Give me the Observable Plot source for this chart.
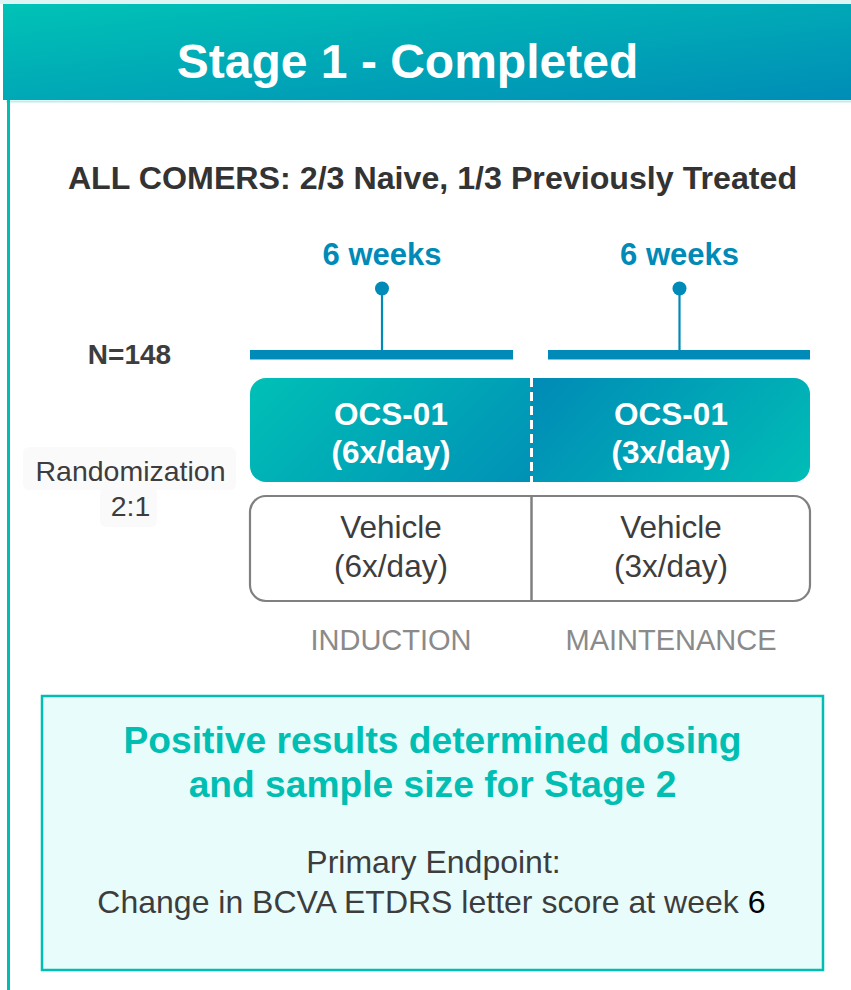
<!DOCTYPE html>
<html>
<head>
<meta charset="utf-8">
<script src="https://cdn.jsdelivr.net/npm/d3@7"></script>
<script src="https://cdn.jsdelivr.net/npm/@observablehq/plot@0.6"></script>
<style>
  html, body { margin: 0; padding: 0; background: #fff; }
  #chart svg { display: block; }
</style>
</head>
<body>
<svg width="0" height="0" style="position:absolute">
  <defs>
    <linearGradient id="hdrGrad" x1="0" y1="0" x2="1" y2="1">
      <stop offset="0" stop-color="#00C3B6"/>
      <stop offset="1" stop-color="#008DB7"/>
    </linearGradient>
    <linearGradient id="ocsLeft" gradientUnits="userSpaceOnUse" x1="300" y1="330" x2="520" y2="550">
      <stop offset="0" stop-color="#00C0B6"/>
      <stop offset="1" stop-color="#008AB6"/>
    </linearGradient>
    <linearGradient id="ocsRight" gradientUnits="userSpaceOnUse" x1="545" y1="360" x2="760" y2="560">
      <stop offset="0" stop-color="#008AB6"/>
      <stop offset="1" stop-color="#00C0B6"/>
    </linearGradient>
  </defs>
</svg>
<div id="chart"></div>
<script>
// ---- content ----
const title = "Stage 1 - Completed";
const population = "ALL COMERS: 2/3 Naive, 1/3 Previously Treated";
const sampleSize = "N=148";
const randomization = ["Randomization", "2:1"];
const phases = ["INDUCTION", "MAINTENANCE"];
const phaseDurations = ["6 weeks", "6 weeks"];
const armNames = ["OCS-01", "Vehicle"];
const doses = ["(6x/day)", "(3x/day)"];
const resultLines = ["Positive results determined dosing", "and sample size for Stage 2"];
const endpointLabel = "Primary Endpoint:";
const endpointText = "Change in BCVA ETDRS letter score at week";
const endpointWeek = "6";

// ---- layout (pixels, y grows downward) ----
const W = 851, H = 990;
const FONT = "'Liberation Sans', Arial, Helvetica, sans-serif";
const TEAL = "#00BFB2", BLUE = "#008AB7", DARK = "#3d3d3d", GRAY = "#8a8a8a";
const bars = [[250, 513], [548, 810]];
const cells = [[250, 531], [531, 810]];
const one = [0];
const k = (v) => () => v;

const phaseData = phases.map((p, i) => ({
  phase: p,
  duration: phaseDurations[i],
  dose: doses[i],
  bx1: bars[i][0], bx2: bars[i][1], bc: (bars[i][0] + bars[i][1]) / 2,
  cx1: cells[i][0], cx2: cells[i][1], cc: (cells[i][0] + cells[i][1]) / 2
}));

const endFs = 32;
const endX = 765;
const sixW = 0.556 * endFs, spW = 0.278 * endFs;

const chart = Plot.plot({
  width: W,
  height: H,
  margin: 0,
  x: {domain: [0, W], range: [0, W], axis: null},
  y: {domain: [0, H], range: [0, H], axis: null},
  style: {background: "#ffffff", fontFamily: FONT},
  marks: [
    // header band
    Plot.rect(one, {x1: k(0), x2: k(W), y1: k(0), y2: k(4), fill: "#dff5f3"}),
    Plot.rect(one, {x1: k(3), x2: k(W), y1: k(4), y2: k(100), fill: "url(#hdrGrad)"}),
    Plot.ruleY(one, {y: k(101), x1: k(6), x2: k(W), stroke: "#bdeeea", strokeWidth: 2}),
    Plot.ruleX(one, {x: k(8), y1: k(100), y2: k(H), stroke: TEAL, strokeWidth: 3}),
    Plot.text([title], {x: k(407), y: k(77), text: d => d, lineAnchor: "bottom",
      fontSize: 48, fontWeight: "bold", fill: "#ffffff"}),

    // population line
    Plot.text([population], {x: k(432), y: k(188), text: d => d, lineAnchor: "bottom",
      fontSize: 32.2, fontWeight: "bold", fill: "#333333"}),

    // timeline: duration labels, lollipops, bars
    Plot.text(phaseData, {x: "bc", y: k(264), text: "duration", lineAnchor: "bottom",
      fontSize: 31, fontWeight: "bold", fill: BLUE}),
    Plot.ruleX(phaseData, {x: "bc", y1: k(288), y2: k(351), stroke: BLUE, strokeWidth: 2.2}),
    Plot.dot(phaseData, {x: "bc", y: k(288), r: 7, fill: BLUE}),
    Plot.rect(phaseData, {x1: "bx1", x2: "bx2", y1: k(350), y2: k(359.5), fill: BLUE}),

    // N and randomization
    Plot.text([sampleSize], {x: k(129), y: k(363), text: d => d, lineAnchor: "bottom",
      fontSize: 28, fontWeight: "bold", fill: DARK}),
    Plot.rect(one, {x1: k(23), x2: k(236), y1: k(447), y2: k(490), fill: "#fafafa", rx: 6}),
    Plot.rect(one, {x1: k(100), x2: k(157), y1: k(488), y2: k(527), fill: "#fafafa", rx: 6}),
    Plot.text(randomization, {x: k(130), y: (d, i) => [480, 515][i], text: d => d, lineAnchor: "bottom",
      fontSize: 28.5, fill: DARK}),

    // OCS-01 arm box (gradient halves) with dashed divider
    Plot.rect(one, {x1: k(cells[0][0]), x2: k(cells[0][1] + 20), y1: k(378), y2: k(482), fill: "url(#ocsLeft)", rx: 16}),
    Plot.rect(one, {x1: k(cells[1][0]), x2: k(cells[1][1]), y1: k(378), y2: k(482), fill: "url(#ocsRight)", rx: 16}),
    Plot.rect(one, {x1: k(cells[1][0]), x2: k(cells[1][0] + 20), y1: k(378), y2: k(482), fill: "url(#ocsRight)"}),
    Plot.ruleX(one, {x: k(531), y1: k(378), y2: k(482), stroke: "#ffffff", strokeWidth: 3, strokeDasharray: "9,5"}),
    Plot.text(phaseData, {x: "cc", y: k(424), text: k(armNames[0]), lineAnchor: "bottom",
      fontSize: 31.5, fontWeight: "bold", fill: "#ffffff"}),
    Plot.text(phaseData, {x: "cc", y: k(462), text: "dose", lineAnchor: "bottom",
      fontSize: 31.5, fontWeight: "bold", fill: "#ffffff"}),

    // Vehicle arm box
    Plot.rect(one, {x1: k(250), x2: k(810), y1: k(496), y2: k(601), fill: "#ffffff",
      stroke: "#808080", strokeWidth: 2.2, rx: 16}),
    Plot.ruleX(one, {x: k(531), y1: k(496), y2: k(601), stroke: "#808080", strokeWidth: 2.5}),
    Plot.text(phaseData, {x: "cc", y: k(537), text: k(armNames[1]), lineAnchor: "bottom",
      fontSize: 31.5, fill: DARK}),
    Plot.text(phaseData, {x: "cc", y: k(576), text: "dose", lineAnchor: "bottom",
      fontSize: 31.5, fill: DARK}),

    // phase names
    Plot.text(phaseData, {x: "cc", y: k(649), text: "phase", lineAnchor: "bottom",
      fontSize: 29, fill: GRAY}),

    // results box
    Plot.rect(one, {x1: k(42), x2: k(823), y1: k(696), y2: k(970), fill: "#E9FCFC",
      stroke: TEAL, strokeWidth: 2.5}),
    Plot.text(resultLines, {x: k(432), y: (d, i) => [752, 796][i], text: d => d, lineAnchor: "bottom",
      fontSize: 37.2, fontWeight: "bold", fill: TEAL}),
    Plot.text([endpointLabel], {x: k(433), y: k(872), text: d => d, lineAnchor: "bottom",
      fontSize: endFs, fill: DARK}),
    Plot.text([endpointText], {x: k(endX - sixW - spW), y: k(912), text: d => d, lineAnchor: "bottom",
      textAnchor: "end", fontSize: endFs, fill: DARK}),
    Plot.text([endpointWeek], {x: k(endX), y: k(912), text: d => d, lineAnchor: "bottom",
      textAnchor: "end", fontSize: endFs, fill: "#000000"})
  ]
});

document.getElementById("chart").appendChild(chart);
</script>
</body>
</html>
